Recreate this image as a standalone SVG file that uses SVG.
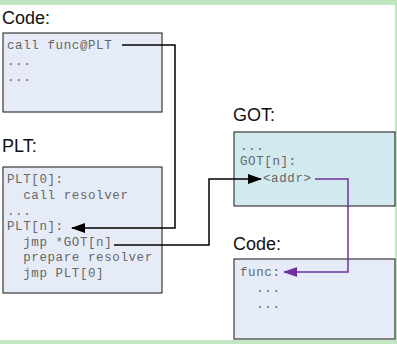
<svg xmlns="http://www.w3.org/2000/svg" width="397" height="344" viewBox="0 0 397 344">
<defs>
<style>
.lbl{font-family:"Liberation Sans",Arial,sans-serif;font-size:18px;fill:#111}
.code{font-family:"Liberation Mono","Courier New",monospace;font-size:12.5px;letter-spacing:0.6px;fill:#666;white-space:pre}
.box{fill:#e6ecf7;stroke:#3a3a3a;stroke-width:1.2}
.got{fill:#d2e9ef;stroke:#3a3a3a;stroke-width:1.2}
.conn{fill:none;stroke:#000;stroke-width:1.5}
.connp{fill:none;stroke:#7030a0;stroke-width:1.5}
</style>
<marker id="ah" markerWidth="14" markerHeight="10" refX="13" refY="5" orient="auto" markerUnits="userSpaceOnUse"><path d="M0,0 L14,5 L0,10 Z" fill="#000"/></marker>
<marker id="ahp" markerWidth="14" markerHeight="10" refX="13" refY="5" orient="auto" markerUnits="userSpaceOnUse"><path d="M0,0 L14,5 L0,10 Z" fill="#7030a0"/></marker>
</defs>
<rect width="397" height="344" fill="#fff"/>
<rect x="0" y="0" width="397" height="5" fill="#c2e6c2"/>
<rect x="395" y="0" width="2" height="344" fill="#c2e6c2"/>
<rect x="0" y="340" width="397" height="4" fill="#c2e6c2"/>
<g id="code1">
<text class="lbl" x="2" y="24">Code:</text>
<rect class="box" x="3" y="33" width="159" height="79"/>
<text class="code" x="7" y="49" xml:space="preserve">call func@PLT</text>
<text class="code" x="7" y="65">...</text>
<text class="code" x="7" y="81">...</text>
</g>
<g id="plt">
<text class="lbl" x="2" y="152">PLT:</text>
<rect class="box" x="3" y="167" width="159" height="126"/>
<text class="code" x="7" y="183" xml:space="preserve">PLT[0]:</text>
<text class="code" x="7" y="199" xml:space="preserve">  call resolver</text>
<text class="code" x="7" y="215" xml:space="preserve">...</text>
<text class="code" x="7" y="230" xml:space="preserve">PLT[n]:</text>
<text class="code" x="7" y="246" xml:space="preserve">  jmp *GOT[n]</text>
<text class="code" x="7" y="261" xml:space="preserve">  prepare resolver</text>
<text class="code" x="7" y="277" xml:space="preserve">  jmp PLT[0]</text>
</g>
<g id="got">
<text class="lbl" x="233" y="121">GOT:</text>
<rect class="got" x="234" y="132" width="161" height="74"/>
<text class="code" x="240" y="150">...</text>
<text class="code" x="240" y="165">GOT[n]:</text>
<text class="code" x="263" y="182">&lt;addr&gt;</text>
</g>
<g id="code2">
<text class="lbl" x="233" y="250">Code:</text>
<rect class="box" x="234" y="259" width="161" height="80"/>
<text class="code" x="240" y="276">func:</text>
<text class="code" x="240" y="292" xml:space="preserve">  ...</text>
<text class="code" x="240" y="308" xml:space="preserve">  ...</text>
</g>
<g id="connectors">
<polyline class="conn" points="122,45 175,45 175,228 72,228" marker-end="url(#ah)"/>
<polyline class="conn" points="114,245 209,245 209,179 261,179" marker-end="url(#ah)"/>
<polyline class="connp" points="315,179 348,179 348,272 284,272" marker-end="url(#ahp)"/>
</g>
</svg>
